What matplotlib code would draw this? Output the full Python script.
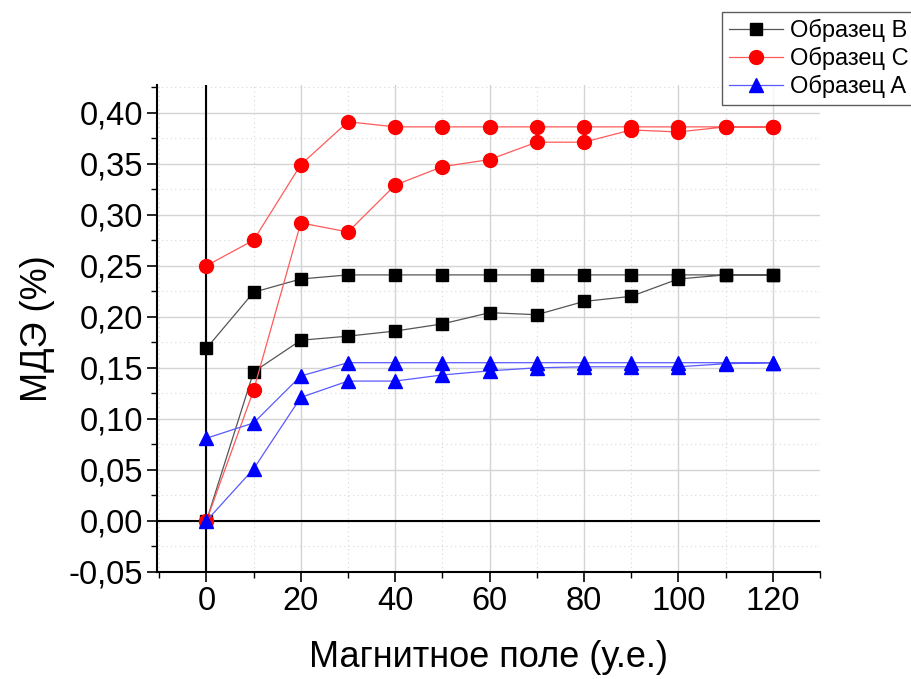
import matplotlib
matplotlib.use("Agg")
import matplotlib.pyplot as plt
from matplotlib.ticker import MultipleLocator, FuncFormatter

plt.rcParams['font.family'] = ['Liberation Sans', 'DejaVu Sans']

# Field values (forward sweep) and reverse sweep
field_up = [0, 10, 20, 30, 40, 50, 60, 70, 80, 90, 100, 110, 120]
field_down = [120, 110, 100, 90, 80, 70, 60, 50, 40, 30, 20, 10, 0]

# Образец B (black squares)
b_up = [0.000, 0.146, 0.177, 0.181, 0.186, 0.193, 0.204, 0.202, 0.215, 0.220, 0.237, 0.241, 0.241]
b_down = [0.241, 0.241, 0.241, 0.241, 0.241, 0.241, 0.241, 0.241, 0.241, 0.241, 0.237, 0.224, 0.169]

# Образец C (red circles)
c_up = [0.000, 0.128, 0.292, 0.283, 0.329, 0.347, 0.354, 0.371, 0.371, 0.383, 0.381, 0.386, 0.386]
c_down = [0.386, 0.386, 0.386, 0.386, 0.386, 0.386, 0.386, 0.386, 0.386, 0.391, 0.349, 0.275, 0.250]

# Образец A (blue triangles)
a_up = [0.000, 0.051, 0.121, 0.137, 0.137, 0.143, 0.147, 0.150, 0.151, 0.151, 0.151, 0.154, 0.155]
a_down = [0.155, 0.155, 0.155, 0.155, 0.155, 0.155, 0.155, 0.155, 0.155, 0.155, 0.142, 0.096, 0.081]

labels = ['Образец B', 'Образец C', 'Образец A']
x_label = 'Магнитное поле (у.е.)'
y_label = 'МДЭ (%)'

fig = plt.figure(figsize=(9.12, 6.79), dpi=100)
ax = fig.add_axes([0.172, 0.1576, 0.727, 0.7172])

x_all = field_up + field_down
series = [
    (b_up + b_down, 's', 'black', '#555555', 8.6),
    (c_up + c_down, 'o', 'red', '#ff5a5a', 10),
    (a_up + a_down, '^', 'blue', '#5a5aff', 10.5),
]
for (ys, mk, mc, lc, ms), lab in zip(series, labels):
    ax.plot(x_all, ys, color=lc, lw=0.9, marker=mk, markersize=ms,
            markerfacecolor=mc, markeredgecolor=mc, label=lab, zorder=3)

ax.axvline(0, color='black', lw=1.5, zorder=2)
ax.axhline(0, color='black', lw=1.5, zorder=2)

ax.set_xlim(-10.5, 130)
ax.set_ylim(-0.05, 0.427)
ax.xaxis.set_major_locator(MultipleLocator(20))
ax.xaxis.set_minor_locator(MultipleLocator(10))
ax.yaxis.set_major_locator(MultipleLocator(0.05))
ax.yaxis.set_minor_locator(MultipleLocator(0.025))
ax.yaxis.set_major_formatter(FuncFormatter(lambda v, p: f"{v:.2f}".replace('.', ',').replace('-0,00', '0,00')))

ax.grid(which='major', color='#d4d4d4', lw=1.0, zorder=0)
ax.grid(which='minor', color='#d8d8d8', lw=0.8, ls=(0, (1, 3)), zorder=0)
ax.set_axisbelow(True)

for s in ['top', 'right']:
    ax.spines[s].set_visible(False)
for s in ['left', 'bottom']:
    ax.spines[s].set_linewidth(1.5)

ax.tick_params(which='major', direction='out', length=7, width=1.2, labelsize=23.5, pad=3)
ax.tick_params(which='minor', direction='out', length=4, width=1.0)

ax.set_xlabel(x_label, fontsize=26, labelpad=17)
ax.set_ylabel(y_label, fontsize=26, labelpad=10)

leg = fig.legend(loc='upper left', bbox_to_anchor=(722 / 912, 1 - 12 / 679),
                 fontsize=17, frameon=True, fancybox=False, borderpad=0.3,
                 handlelength=2.3, handletextpad=0.3, labelspacing=0.2,
                 borderaxespad=0)
leg.get_frame().set_edgecolor('#333333')
leg.get_frame().set_linewidth(1.0)

fig.savefig('out.png', dpi=100)
